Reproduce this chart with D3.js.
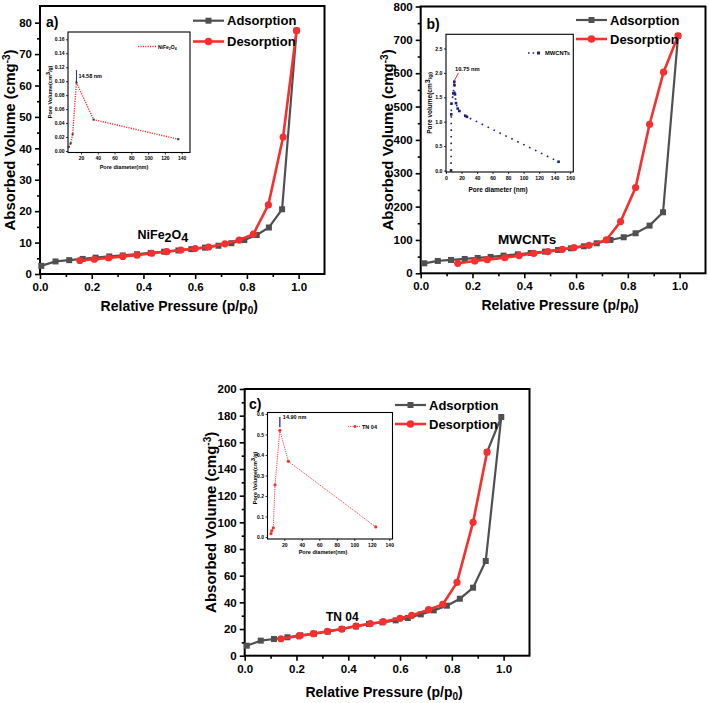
<!DOCTYPE html>
<html><head><meta charset="utf-8">
<script src="https://cdn.jsdelivr.net/npm/d3@7"></script>
<style>
body{margin:0;background:#fff}
svg{display:block}
text{font-family:"Liberation Sans",Arial,Helvetica,sans-serif;font-weight:bold;fill:#000}
</style>
</head><body>
<svg id="c" width="709" height="703"></svg>
<script>
// ---------- DATA ----------
const xTicksMain = [0, 0.2, 0.4, 0.6, 0.8, 1.0];
const xMinorMain = [0.1, 0.3, 0.5, 0.7, 0.9];

// Panel a) NiFe2O4
const aAdsX = [0.005,0.06,0.113,0.165,0.215,0.268,0.32,0.375,0.428,0.48,0.535,0.585,0.638,0.69,0.74,0.79,0.838,0.885,0.936,0.992];
const aAdsY = [2.6,4.0,4.4,4.8,5.2,5.6,5.9,6.3,6.7,7.1,7.5,7.9,8.4,9.0,9.8,10.8,12.4,14.8,20.6,77.5];
const aDesX = [0.992,0.94,0.883,0.825,0.77,0.715,0.652,0.6,0.545,0.49,0.432,0.375,0.32,0.265,0.21,0.154];
const aDesY = [77.5,43.6,22.0,12.7,10.8,9.6,8.6,8.1,7.6,7.1,6.6,6.0,5.6,5.1,4.7,4.3];
const aYTicks = [0,10,20,30,40,50,60,70,80];
const aYMinor = [5,15,25,35,45,55,65,75];
const aPoreX = [5.4,7.7,10,14.58,35,136];
const aPoreY = [0.006,0.011,0.024,0.098,0.045,0.017];
const aPoreXTicks = [20,40,60,80,100,120,140];
const aPoreYTicks = [0,0.02,0.04,0.06,0.08,0.10,0.12,0.14,0.16];

// Panel b) MWCNTs
const bAdsX = [0.014,0.066,0.117,0.17,0.22,0.27,0.32,0.375,0.425,0.48,0.53,0.58,0.63,0.68,0.733,0.784,0.83,0.884,0.936,0.994];
const bAdsY = [30,37,40,43,46,49,53,57,61,65,70,75,81,90,100,108,120,143,183,712];
const bDesX = [0.994,0.938,0.884,0.83,0.772,0.717,0.65,0.592,0.547,0.492,0.437,0.38,0.325,0.257,0.209,0.143];
const bDesY = [712,603,447,257,155,100,84,77,72,65,60,53,47,41,37,30];
const bYTicks = [0,100,200,300,400,500,600,700,800];
const bYMinor = [50,150,250,350,450,550,650,750];
const bPoreX = [6.5,6.8,7.1,9.4,10.75,10.9,11.6,12.9,15.1,17.2,24.9,27,145];
const bPoreY = [0.0,1.15,1.37,1.58,1.82,1.75,1.56,1.38,1.27,1.22,1.12,1.1,0.18];
const bPoreXTicks = [0,20,40,60,80,100,120,140,160];
const bPoreYTicks = [0,0.5,1.0,1.5,2.0,2.5];

// Panel c) TN 04
const cAdsX = [0.008,0.062,0.113,0.165,0.215,0.268,0.32,0.375,0.43,0.48,0.532,0.583,0.63,0.68,0.73,0.781,0.831,0.882,0.931,0.991,0.936];
const cAdsY = [7.5,11.3,12.5,13.8,15.3,16.5,18,20,22,23.8,25,26.5,28.3,31,34,37.5,42.7,51,71,179,152.6];
const cDesX = [0.936,0.882,0.82,0.765,0.71,0.645,0.6,0.535,0.485,0.43,0.375,0.32,0.265,0.21,0.14];
const cDesY = [152.6,100,55,38.5,34.5,30.2,28,25.5,24,22.2,20,18.3,16.5,14.8,12.7];
const cYTicks = [0,20,40,60,80,100,120,140,160,180,200];
const cYMinor = [10,30,50,70,90,110,130,150,170,190];
const cPoreX = [4.8,5.6,7.4,9.4,14.9,24.6,124.5];
const cPoreY = [0.016,0.03,0.044,0.254,0.52,0.369,0.049];
const cPoreXTicks = [20,40,60,80,100,120,140];
const cPoreYTicks = [0,0.1,0.2,0.3,0.4,0.5,0.6];

const seriesNames = ["Adsorption","Desorption"];
// ---------- DRAW ----------
const svg = d3.select('#c');
const GRAY = '#505050', RED = '#f5302e', NAVY = '#1b1f7a';

function zip(xs, ys){ return xs.map((v,i)=>[v, ys[i]]); }

function mainPanel(o){
  const x = d3.scaleLinear().domain([0,1.1]).range([o.l,o.r]);
  const y = d3.scaleLinear().domain(o.yd).range([o.b,o.t]);
  const g = svg.append('g');
  const ax = g.append('g').attr('transform',`translate(0,${o.b})`)
    .call(d3.axisBottom(x).tickValues(xTicksMain).tickSize(5).tickPadding(4).tickFormat(d3.format('.1f')));
  const axm = g.append('g').attr('transform',`translate(0,${o.b})`)
    .call(d3.axisBottom(x).tickValues(xMinorMain).tickSize(3).tickFormat(''));
  const ay = g.append('g').attr('transform',`translate(${o.l},0)`)
    .call(d3.axisLeft(y).tickValues(o.yt).tickSize(5).tickPadding(3).tickFormat(d3.format('d')));
  const aym = g.append('g').attr('transform',`translate(${o.l},0)`)
    .call(d3.axisLeft(y).tickValues(o.ym).tickSize(3).tickFormat(''));
  [ax,axm,ay,aym].forEach(a=>{
    a.select('.domain').remove();
    a.selectAll('line').attr('stroke','#000').attr('stroke-width',1.6);
    a.selectAll('text').attr('font-size',11.5).style('font-family','"Liberation Sans",Arial,sans-serif').style('font-weight','bold').attr('fill','#000');
  });
  g.append('rect').attr('x',o.l).attr('y',o.t).attr('width',o.r-o.l).attr('height',o.b-o.t)
    .attr('fill','none').attr('stroke','#000').attr('stroke-width',2);
  const line = d3.line().x(d=>x(d[0])).y(d=>y(d[1]));
  const ads = zip(o.adsX,o.adsY), des = zip(o.desX,o.desY);
  g.append('path').attr('d',line(ads)).attr('fill','none').attr('stroke',GRAY).attr('stroke-width',2.2);
  g.selectAll(null).data(ads).enter().append('rect')
    .attr('x',d=>x(d[0])-3).attr('y',d=>y(d[1])-3).attr('width',6).attr('height',6).attr('fill',GRAY);
  g.append('path').attr('d',line(des)).attr('fill','none').attr('stroke',RED).attr('stroke-width',2.6);
  g.selectAll(null).data(des).enter().append('circle')
    .attr('cx',d=>x(d[0])).attr('cy',d=>y(d[1])).attr('r',3.6).attr('fill',RED);
  // legend
  const lg = g.append('g');
  [[GRAY,'rect',o.lgY1,seriesNames[0]],[RED,'circle',o.lgY2,seriesNames[1]]].forEach(([c,shape,yy,name])=>{
    lg.append('line').attr('x1',o.lgX).attr('x2',o.lgX+31).attr('y1',yy).attr('y2',yy).attr('stroke',c).attr('stroke-width',c===RED?2.6:2.2);
    if(shape==='rect') lg.append('rect').attr('x',o.lgX+15.5-3).attr('y',yy-3).attr('width',6).attr('height',6).attr('fill',c);
    else lg.append('circle').attr('cx',o.lgX+15.5).attr('cy',yy).attr('r',3.8).attr('fill',c);
    lg.append('text').attr('x',o.lgX+34).attr('y',yy+4.5).attr('font-size',13).text(name);
  });
  g.append('text').attr('x',o.letX).attr('y',o.letY).attr('font-size',14).text(o.letter);
  const xt = g.append('text').attr('x',(o.l+o.r)/2 - 3).attr('y',o.xlY).attr('text-anchor','middle').attr('font-size',14);
  xt.append('tspan').text('Relative Pressure (p/p');
  xt.append('tspan').attr('font-size',10).attr('dy',3).text('0');
  xt.append('tspan').attr('dy',-3).text(')');
  const yt = g.append('text').attr('transform',`translate(${o.ylX},${(o.t+o.b)/2}) rotate(-90)`)
    .attr('text-anchor','middle').attr('font-size',15);
  yt.append('tspan').text('Absorbed Volume (cmg');
  yt.append('tspan').attr('font-size',10).attr('dy',-5).text('-3');
  yt.append('tspan').attr('dy',5).text(')');
  return {x,y,g};
}

function insetPanel(o){
  const x = d3.scaleLinear().domain(o.xd).range([o.l,o.r]);
  const y = d3.scaleLinear().domain(o.yd).range([o.b,o.t]);
  const g = svg.append('g');
  g.append('rect').attr('x',o.l).attr('y',o.t).attr('width',o.r-o.l).attr('height',o.b-o.t)
    .attr('fill','#fff').attr('stroke','none');
  const ax = g.append('g').attr('transform',`translate(0,${o.b})`)
    .call(d3.axisBottom(x).tickValues(o.xt).tickSize(2).tickPadding(2).tickFormat(d3.format('d')));
  const ay = g.append('g').attr('transform',`translate(${o.l},0)`)
    .call(d3.axisLeft(y).tickValues(o.yt).tickSize(2).tickPadding(1.5).tickFormat(o.yf));
  [ax,ay].forEach(a=>{
    a.select('.domain').remove();
    a.selectAll('line').attr('stroke','#000').attr('stroke-width',0.8);
    a.selectAll('text').attr('font-size',o.fs).style('font-family','"Liberation Sans",Arial,sans-serif').style('font-weight','bold').attr('fill','#222');
  });
  g.append('rect').attr('x',o.l).attr('y',o.t).attr('width',o.r-o.l).attr('height',o.b-o.t)
    .attr('fill','none').attr('stroke','#000').attr('stroke-width',1.1);
  g.append('text').attr('x',o.xtX).attr('y',o.b+o.xtDy).attr('text-anchor','middle').attr('font-size',o.tfs).attr('fill','#222').text(o.xTitle);
  const yt = g.append('text').attr('transform',`translate(${o.ytX},${o.ytY}) rotate(-90)`)
    .attr('text-anchor','middle').attr('font-size',o.tfs).attr('fill','#222');
  yt.append('tspan').text(o.yTitle);
  yt.append('tspan').attr('font-size',o.tfs*1.1).attr('dy',-2).text('3');
  yt.append('tspan').attr('font-size',o.tfs*0.9).attr('dy',2).text('/g)');
  return {x,y,g};
}

// ---------- Panel a ----------
mainPanel({l:40,r:324.5,t:6,b:274,yd:[0,85.3],yt:aYTicks,ym:aYMinor,adsX:aAdsX,adsY:aAdsY,desX:aDesX,desY:aDesY,
  lgX:193,lgY1:20.7,lgY2:41.5,letter:'a)',letX:46,letY:27,xlY:311,ylX:14.5});
{
  const {x,y,g} = insetPanel({l:68,r:190,t:32,b:152.5,xd:[4.5,150],yd:[-0.0021,0.1705],xt:aPoreXTicks,yt:aPoreYTicks,
    yf:d3.format('.2f'),fs:5,tfs:5.5,xTitle:'Pore diameter(nm)',xtX:124,xtDy:16,yTitle:'Pore Volume(cm',ytX:52,ytY:92});
  const pts = zip(aPoreX,aPoreY);
  g.append('path').attr('d',d3.line().x(d=>x(d[0])).y(d=>y(d[1]))(pts)).attr('fill','none')
    .attr('stroke',RED).attr('stroke-width',1.4).attr('stroke-dasharray','1.2,1.2');
  g.append('line').attr('x1',x(14.58)).attr('x2',x(14.58)).attr('y1',y(0.098)).attr('y2',y(0.116)).attr('stroke','#2a2a8a').attr('stroke-width',1);
  g.selectAll(null).data(pts).enter().append('rect').attr('x',d=>x(d[0])-1).attr('y',d=>y(d[1])-1).attr('width',2).attr('height',2).attr('fill','#333');
  g.append('text').attr('x',x(14.58)+2).attr('y',y(0.104)).attr('font-size',5.5).attr('fill','#222').text('14.58 nm');
  g.append('line').attr('x1',138).attr('x2',156).attr('y1',46.5).attr('y2',46.5).attr('stroke',RED).attr('stroke-width',1.4).attr('stroke-dasharray','1.2,1.2');
  const lt = g.append('text').attr('x',158).attr('y',48.5).attr('font-size',5).attr('fill','#222');
  lt.append('tspan').text('NiFe');
  lt.append('tspan').attr('font-size',3.5).attr('dy',1).text('2');
  lt.append('tspan').attr('dy',-1).text('O');
  lt.append('tspan').attr('font-size',3.5).attr('dy',1).text('4');
}
{
  const t = svg.append('text').attr('x',137.5).attr('y',239).attr('font-size',12.5);
  t.append('tspan').text('NiFe');
  t.append('tspan').attr('dy',3).text('2');
  t.append('tspan').attr('dy',-3).text('O');
  t.append('tspan').attr('dy',3).text('4');
}

// ---------- Panel b ----------
mainPanel({l:420.7,r:705.5,t:6.5,b:273.3,yd:[0,800],yt:bYTicks,ym:bYMinor,adsX:bAdsX,adsY:bAdsY,desX:bDesX,desY:bDesY,
  lgX:576,lgY1:20,lgY2:39,letter:'b)',letX:426.5,letY:29,xlY:310,ylX:393});
{
  const {x,y,g} = insetPanel({l:446,r:573.3,t:34.3,b:172,xd:[0,164],yd:[-0.03,2.79],xt:bPoreXTicks,yt:bPoreYTicks,
    yf:d3.format('.1f'),fs:5.2,tfs:6.5,xTitle:'Pore diameter (nm)',xtX:498,xtDy:20,yTitle:'Pore volume(cm',ytX:432,ytY:103});
  const pts = zip(bPoreX,bPoreY);
  g.append('path').attr('d',d3.line().x(d=>x(d[0])).y(d=>y(d[1]))(pts)).attr('fill','none')
    .attr('stroke',NAVY).attr('stroke-width',1.6).attr('stroke-dasharray','1.6,5');
  g.selectAll(null).data(pts).enter().append('rect').attr('x',d=>x(d[0])-1.3).attr('y',d=>y(d[1])-1.3).attr('width',2.6).attr('height',2.6).attr('fill',NAVY);
  g.append('line').attr('x1',x(10.75)).attr('x2',x(16)).attr('y1',y(1.84)).attr('y2',y(2.0)).attr('stroke',RED).attr('stroke-width',1);
  g.append('text').attr('x',x(11.5)).attr('y',y(2.04)).attr('font-size',5.8).attr('fill','#222').text('10.75 nm');
  g.append('line').attr('x1',528).attr('x2',540).attr('y1',53).attr('y2',53).attr('stroke',NAVY).attr('stroke-width',1.6).attr('stroke-dasharray','1.6,3');
  g.append('rect').attr('x',537).attr('y',51.5).attr('width',3).attr('height',3).attr('fill',NAVY);
  g.append('text').attr('x',545).attr('y',55).attr('font-size',5.8).attr('fill','#222').text('MWCNTs');
}
svg.append('text').attr('x',498).attr('y',244).attr('font-size',13.5).text('MWCNTs');

// ---------- Panel c ----------
mainPanel({l:244.7,r:529.5,t:389,b:655.7,yd:[0,200],yt:cYTicks,ym:cYMinor,adsX:cAdsX,adsY:cAdsY,desX:cDesX,desY:cDesY,
  lgX:395,lgY1:405,lgY2:424,letter:'c)',letX:249,letY:408.5,xlY:697,ylX:216});
{
  const {x,y,g} = insetPanel({l:267.5,r:392.5,t:412.5,b:539,xd:[0.8,143.7],yd:[-0.0098,0.607],xt:cPoreXTicks,yt:cPoreYTicks,
    yf:d3.format('.1f'),fs:5,tfs:5.5,xTitle:'Pore diameter(nm)',xtX:323,xtDy:14.5,yTitle:'Pore Volume(cm',ytX:256.5,ytY:478});
  const pts = zip(cPoreX,cPoreY);
  g.append('path').attr('d',d3.line().x(d=>x(d[0])).y(d=>y(d[1]))(pts)).attr('fill','none')
    .attr('stroke',RED).attr('stroke-width',0.9).attr('stroke-dasharray','1.2,1');
  g.append('line').attr('x1',x(14.9)).attr('x2',x(14.9)).attr('y1',y(0.535)).attr('y2',y(0.585)).attr('stroke','#2a2a8a').attr('stroke-width',1.3);
  g.selectAll(null).data(pts).enter().append('circle').attr('cx',d=>x(d[0])).attr('cy',d=>y(d[1])).attr('r',1.6).attr('fill',RED);
  g.append('text').attr('x',x(14.9)+3).attr('y',y(0.575)).attr('font-size',5.5).attr('fill','#222').text('14.90 nm');
  g.append('line').attr('x1',348).attr('x2',360).attr('y1',426.5).attr('y2',426.5).attr('stroke',RED).attr('stroke-width',0.9).attr('stroke-dasharray','1.2,1');
  g.append('circle').attr('cx',355).attr('cy',426.5).attr('r',1.5).attr('fill',RED);
  g.append('text').attr('x',362).attr('y',428.5).attr('font-size',5.5).attr('fill','#222').text('TN 04');
}
svg.append('text').attr('x',326).attr('y',621).attr('font-size',12).text('TN 04');
</script>
</body></html>
